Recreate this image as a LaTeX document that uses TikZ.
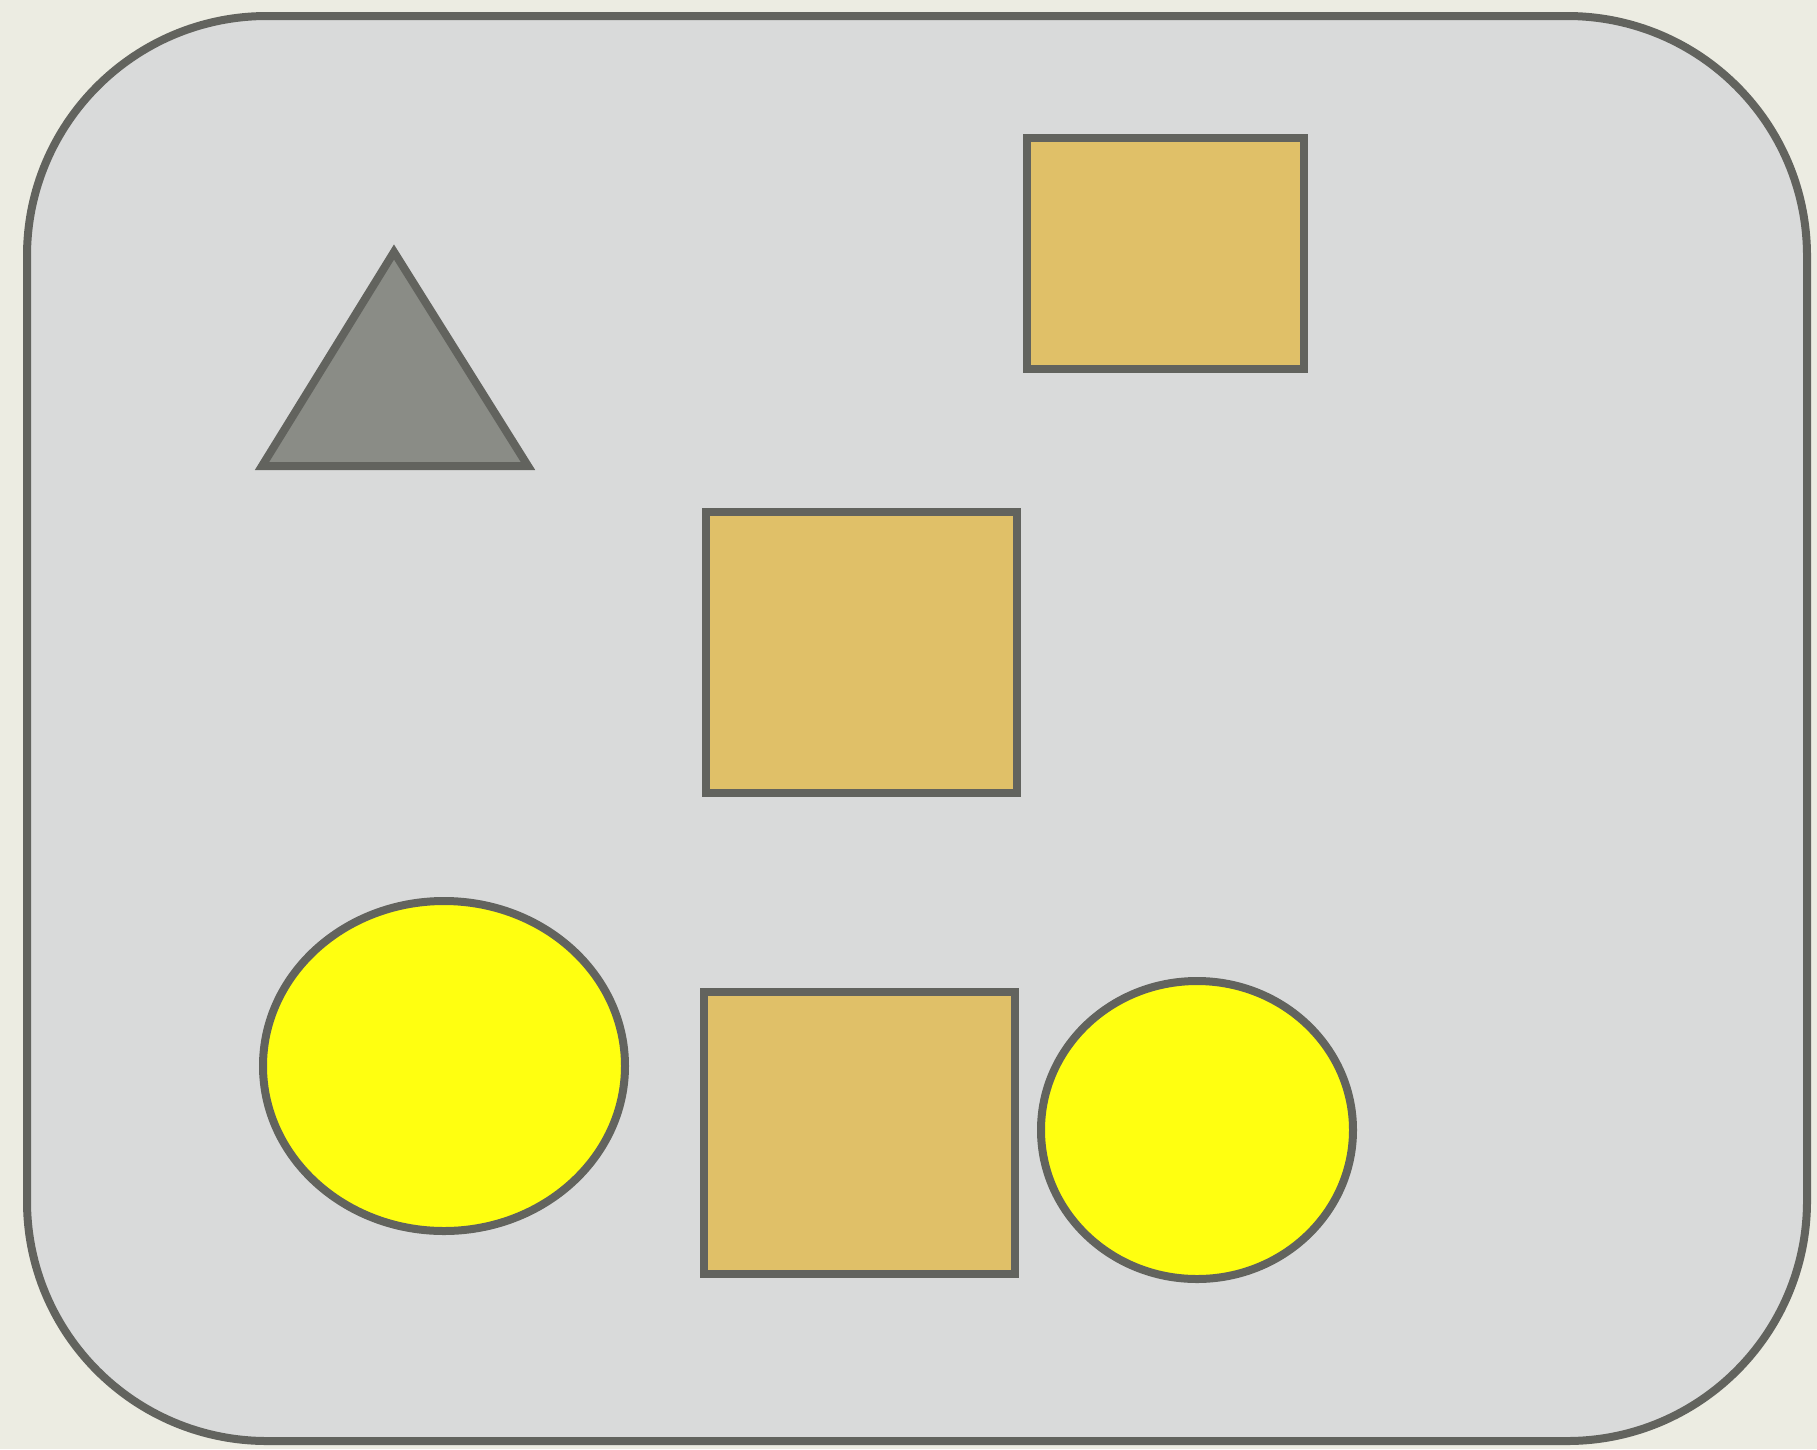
\documentclass[tikz,border=0pt]{standalone}
\begin{document}
\begin{tikzpicture}[x=1pt,y=-1pt,
  outline/.style={draw=strokec,line width=8pt,line join=miter},
  boxshape/.style={outline,fill=boxc},
  roundshape/.style={outline,fill=yellowc}]
\definecolor{bgc}{HTML}{ECECE2}
\definecolor{panelc}{HTML}{D9DADA}
\definecolor{strokec}{HTML}{62635E}
\definecolor{boxc}{HTML}{E0C068}
\definecolor{trianglec}{HTML}{8A8C86}
\definecolor{yellowc}{HTML}{FFFF10}
\useasboundingbox (0,0) rectangle (1817,1449);
\fill[bgc] (0,0) rectangle (1817,1449);
\draw[outline,fill=panelc,rounded corners=240pt] (27,16) rectangle (1807,1441);
\draw[outline,fill=trianglec] (394,252) -- (262,466) -- (528,466) -- cycle;
\draw[boxshape] (1027,138) rectangle (1304,369);
\draw[boxshape] (706,512) rectangle (1017,793);
\draw[boxshape] (704,992) rectangle (1015,1274);
\draw[roundshape] (444,1066) ellipse [x radius=181, y radius=165];
\draw[roundshape] (1197,1130) ellipse [x radius=156, y radius=149];
\end{tikzpicture}
\end{document}
